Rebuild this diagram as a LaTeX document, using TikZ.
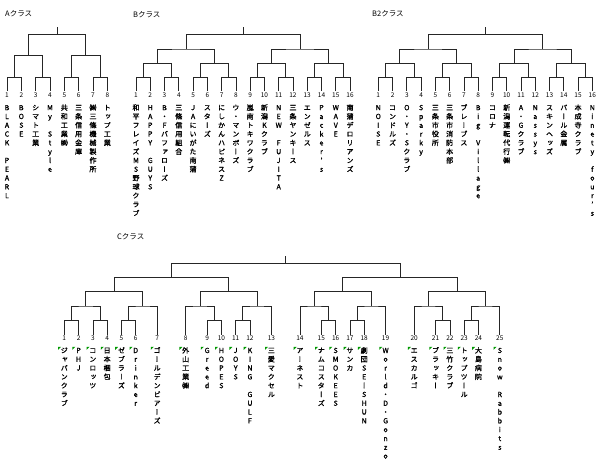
\documentclass[tikz,border=0pt]{standalone}
\usepackage{fontspec}
\usetikzlibrary{calc}
\newfontfamily\cjk{Noto Sans CJK JP}
\newfontfamily\cjkv[RawFeature=+vert,FakeBold=1.2]{Noto Sans CJK JP}
\ExplSyntaxOn
\cs_new:Npn \__vt_inner:n #1
  {
    \vbox:n
      {
        \baselineskip=8.8pt \lineskip=0pt \lineskiplimit=-100pt
        \tl_map_inline:nn {#1}
          { \hbox_to_wd:nn {10pt} { \hss \vrule~height~6pt~depth~1.5pt~width~0pt ##1 \hss } }
      }
  }
\NewDocumentCommand\vtxt{m}{ \exp_args:No \__vt_inner:n {#1} }
\ExplSyntaxOff
\tikzset{
  br/.style={draw=black!85, line width=0.7pt},
  num/.style={font=\cjk\fontsize{6.5}{7}\selectfont, inner sep=0pt},
  nm/.style={font=\cjkv\fontsize{7}{8.8}\selectfont, inner sep=0pt, anchor=north},
  ttl/.style={font=\cjk\fontsize{7.5}{8}\selectfont, inner sep=0pt, anchor=west},
  cmt/.style={fill=green!60!black, draw=none}
}
\newcommand\bmatch[4]{%
  \path let \p1=($(#2)!0.5!(#3)$) in coordinate (#1) at (\x1,-#4pt);
  \draw[br] (#2) |- (#1) -| (#3);
}
\begin{document}
\begin{tikzpicture}[x=1pt,y=-1pt]
\useasboundingbox (0,0) rectangle (600,460);
\fill[white] (0,0) rectangle (600,460);

% titles
\node[ttl] (tA) at (5,14) {Aクラス};
\node[ttl] (tB) at (133,14.5) {Bクラス};
\node[ttl] (tB2) at (372,14) {B2クラス};
\node[ttl] (tC) at (117,236.5) {Cクラス};

% ---------- A class ----------
\foreach \i/\t in {1/BLACK~PEARL,2/BOSE,3/シマト工業,4/My~Style,5/共和工業㈱,6/三条信用金庫,7/㈱三條機械製作所,8/トップ工業}{
  \coordinate (A\i) at ({7+14.33*(\i-1)},91);
  \node[num] (nA\i) at ({7+14.33*(\i-1)},95) {\i};
  \node[nm] (tA\i) at ({7+14.33*(\i-1)},104) {\vtxt{\t}};
}
\foreach \j in {1,...,4}{\pgfmathtruncatemacro\a{2*\j-1}\pgfmathtruncatemacro\b{2*\j}\bmatch{A-1-\j}{A\a}{A\b}{77.3}}
\foreach \j in {1,2}{\pgfmathtruncatemacro\a{2*\j-1}\pgfmathtruncatemacro\b{2*\j}\bmatch{A-2-\j}{A-1-\a}{A-1-\b}{55.8}}
\bmatch{A-root}{A-2-1}{A-2-2}{34.3}
\path (A-root) ++(0,-7) coordinate (A-top);
\draw[br] (A-root) -- (A-top);

% ---------- B class ----------
\foreach \i/\t in {1/和平フレイズMS野球クラブ,2/HAPPY~GUYS,3/B・Fバファローズ,4/三條信用組合,5/JAにいがた南蒲,6/スターズ,7/にしかんハピネスZ,8/ウ・マンボーズ,9/嵐南トキワクラブ,10/新潟Kクラブ,11/NEW~FUJITA,12/三条ヤンキース,13/エンゼルス,14/Packer’s,15/WAVE,16/南蒲デロリアンズ}{
  \coordinate (B\i) at ({136+14.27*(\i-1)},91);
  \node[num] (nB\i) at ({136+14.27*(\i-1)},95) {\i};
  \node[nm] (tB\i) at ({136+14.27*(\i-1)},104) {\vtxt{\t}};
}
\foreach \j in {1,...,8}{\pgfmathtruncatemacro\a{2*\j-1}\pgfmathtruncatemacro\b{2*\j}\bmatch{B-1-\j}{B\a}{B\b}{77.3}}
\foreach \j in {1,...,4}{\pgfmathtruncatemacro\a{2*\j-1}\pgfmathtruncatemacro\b{2*\j}\bmatch{B-2-\j}{B-1-\a}{B-1-\b}{63.2}}
\foreach \j in {1,2}{\pgfmathtruncatemacro\a{2*\j-1}\pgfmathtruncatemacro\b{2*\j}\bmatch{B-3-\j}{B-2-\a}{B-2-\b}{49}}
\bmatch{B-root}{B-3-1}{B-3-2}{34.8}
\path (B-root) ++(0,-7.5) coordinate (B-top);
\draw[br] (B-root) -- (B-top);

% ---------- B2 class ----------
\foreach \i/\t in {1/NOISE,2/コンドルズ,3/O・Y・Sクラブ,4/Sparky,5/三条市役所,6/三条市消防本部,7/ブレーブス,8/Big~Village,9/コロナ,10/新潟運転代行㈱,11/A・Gクラブ,12/Nassys,13/スキンヘッズ,14/パール金属,15/本成寺クラブ,16/Ninety~four’s}{
  \coordinate (D\i) at ({378.3+14.27*(\i-1)},91);
  \node[num] (nD\i) at ({378.3+14.27*(\i-1)},95) {\i};
  \node[nm] (tD\i) at ({378.3+14.27*(\i-1)},104) {\vtxt{\t}};
}
\foreach \j in {1,...,8}{\pgfmathtruncatemacro\a{2*\j-1}\pgfmathtruncatemacro\b{2*\j}\bmatch{D-1-\j}{D\a}{D\b}{77.3}}
\foreach \j in {1,...,4}{\pgfmathtruncatemacro\a{2*\j-1}\pgfmathtruncatemacro\b{2*\j}\bmatch{D-2-\j}{D-1-\a}{D-1-\b}{63.2}}
\foreach \j in {1,2}{\pgfmathtruncatemacro\a{2*\j-1}\pgfmathtruncatemacro\b{2*\j}\bmatch{D-3-\j}{D-2-\a}{D-2-\b}{49}}
\bmatch{D-root}{D-3-1}{D-3-2}{34.8}
\path (D-root) ++(0,-7.5) coordinate (D-top);
\draw[br] (D-root) -- (D-top);

% ---------- C class ----------
\foreach \i/\p/\t in {1/0/ジャパンクラブ,2/2/PHJ,3/4/コンロッツ,4/6/日本梱包,5/8/ゼブラーズ,6/10/Drinker,7/13/ゴールデンビアーズ,8/17/外山工業㈱,9/20/Greed,10/22/HOPES,11/24/JOYS,12/26/KING~GULF,13/29/三愛マクセル,14/33/アーネスト,15/36/ナムコスターズ,16/38/SMOKEES,17/40/サンカ,18/42/劇団SEーSHUN,19/45/World・D・Gonzo,20/49/エスカルゴ,21/52/ブラッキー,22/54/三竹クラブ,23/56/トップツール,24/58/大島病院,25/61/Snow~Rabbits}{
  \coordinate (C\i) at ({64.3+7.14*\p},334.5);
  \node[num] (nC\i) at ({64.3+7.14*\p},338.5) {\i};
  \node[nm] (tC\i) at ({64.3+7.14*\p},346.8) {\vtxt{\t}};
  \fill[cmt] ([xshift=-1pt]tC\i.north west) -- ++(3,0) -- ++(-3,3) -- cycle;
}
% first round
\bmatch{C-a1}{C1}{C2}{320.3}
\bmatch{C-a2}{C3}{C4}{320.3}
\bmatch{C-a3}{C5}{C6}{320.3}
\bmatch{C-a4}{C9}{C10}{320.3}
\bmatch{C-a5}{C11}{C12}{320.3}
\bmatch{C-a6}{C15}{C16}{320.3}
\bmatch{C-a7}{C17}{C18}{320.3}
\bmatch{C-a8}{C21}{C22}{320.3}
\bmatch{C-a9}{C23}{C24}{320.3}
% second round
\bmatch{C-b1}{C-a1}{C-a2}{306}
\bmatch{C-b2}{C-a3}{C7}{306}
\bmatch{C-b3}{C8}{C-a4}{306}
\bmatch{C-b4}{C-a5}{C13}{306}
\bmatch{C-b5}{C14}{C-a6}{306}
\bmatch{C-b6}{C-a7}{C19}{306}
\bmatch{C-b7}{C20}{C-a8}{306}
\bmatch{C-b8}{C-a9}{C25}{306}
% third round
\bmatch{C-c1}{C-b1}{C-b2}{291.7}
\bmatch{C-c2}{C-b3}{C-b4}{291.7}
\bmatch{C-c3}{C-b5}{C-b6}{291.7}
\bmatch{C-c4}{C-b7}{C-b8}{291.7}
% semi-finals
\bmatch{C-d1}{C-c1}{C-c2}{277.7}
\bmatch{C-d2}{C-c3}{C-c4}{277.7}
% final
\bmatch{C-root}{C-d1}{C-d2}{263.3}
\path (C-root) ++(0,-7.5) coordinate (C-top);
\draw[br] (C-root) -- (C-top);
\end{tikzpicture}
\end{document}
